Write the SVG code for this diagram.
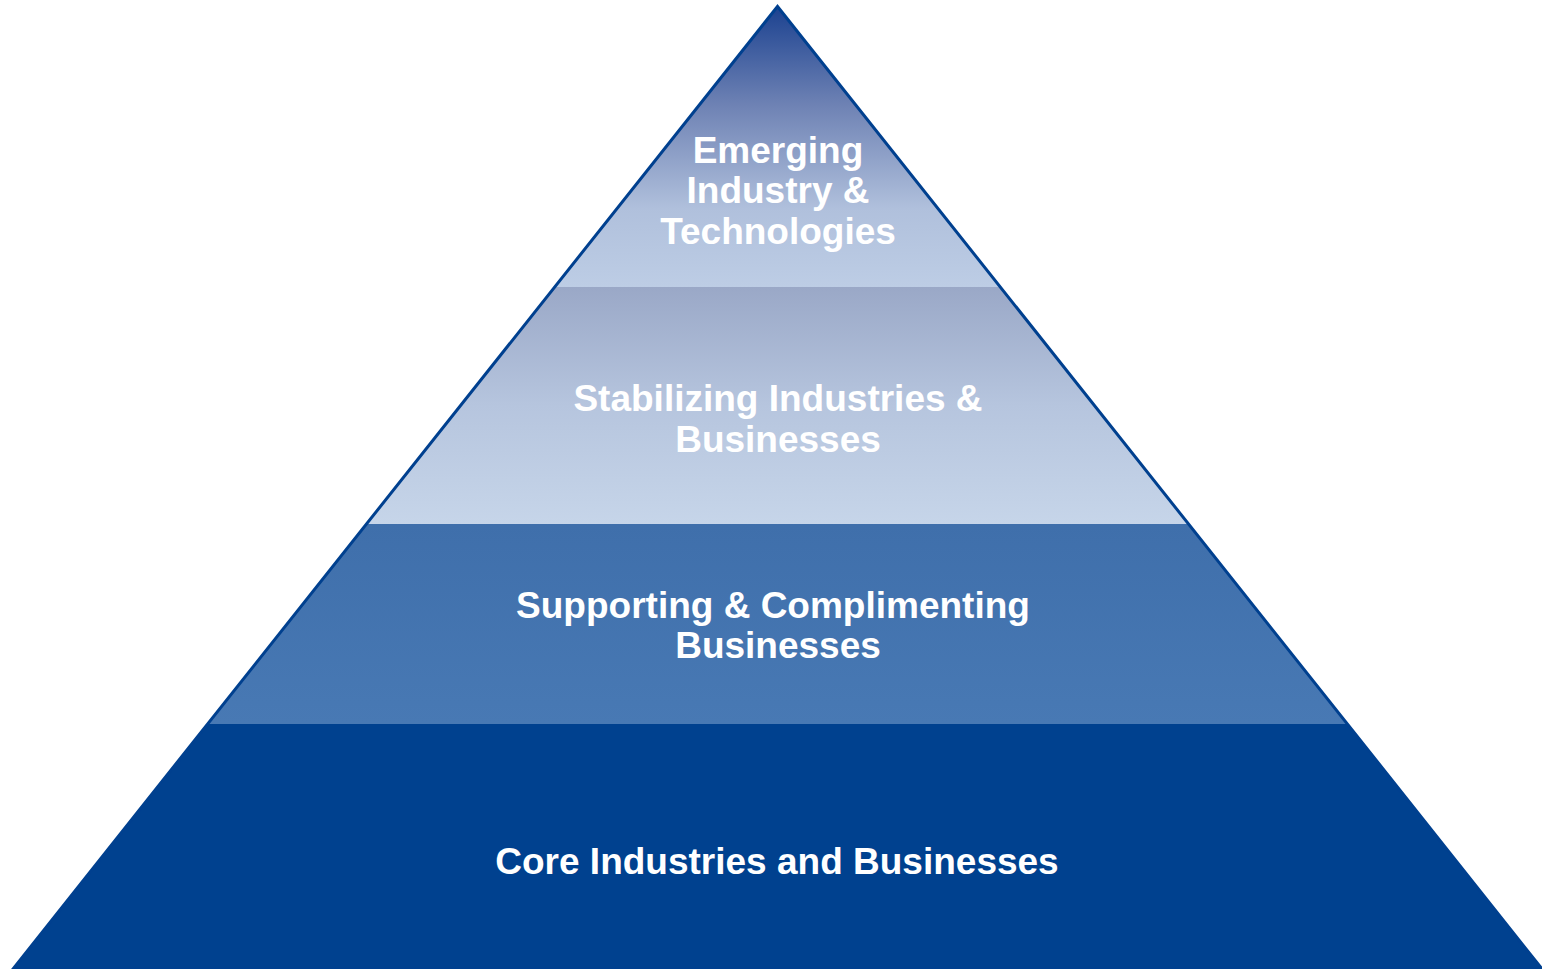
<svg xmlns="http://www.w3.org/2000/svg" width="1542" height="969" viewBox="0 0 1542 969">
  <style>
    .lbl { font-family: "Liberation Sans", Arial, sans-serif; font-weight: bold; font-size: 37px; fill: #ffffff; text-anchor: middle; }
  </style>
  <defs>
    <linearGradient id="gTop" x1="0" y1="7" x2="0" y2="287" gradientUnits="userSpaceOnUse">
      <stop offset="0" stop-color="#1c4290"/>
      <stop offset="0.35" stop-color="#6e82b4"/>
      <stop offset="0.72" stop-color="#b0c0dc"/>
      <stop offset="1" stop-color="#bdcde5"/>
    </linearGradient>
    <linearGradient id="gMid" x1="0" y1="287" x2="0" y2="524" gradientUnits="userSpaceOnUse">
      <stop offset="0" stop-color="#9aa8c7"/>
      <stop offset="0.5" stop-color="#b6c5de"/>
      <stop offset="1" stop-color="#c6d5e9"/>
    </linearGradient>
    <linearGradient id="gThird" x1="0" y1="524" x2="0" y2="724" gradientUnits="userSpaceOnUse">
      <stop offset="0" stop-color="#3f6fab"/>
      <stop offset="1" stop-color="#4879b4"/>
    </linearGradient>
    <clipPath id="tri">
      <polygon points="777.5,6.5 13,969 1542,969"/>
    </clipPath>
  </defs>

  <g id="pyramid-layers" clip-path="url(#tri)">
    <g id="layer-core">
      <rect x="0" y="724" width="1542" height="245" fill="#00418f"/>
    </g>
    <g id="layer-supporting">
      <rect x="0" y="524" width="1542" height="200" fill="url(#gThird)"/>
    </g>
    <g id="layer-stabilizing">
      <rect x="0" y="287" width="1542" height="237" fill="url(#gMid)"/>
    </g>
    <g id="layer-emerging">
      <rect x="0" y="0" width="1542" height="287" fill="url(#gTop)"/>
    </g>
  </g>

  <g id="outline">
    <polygon points="777.5,6.5 13,969 1542,969" fill="none" stroke="#00408f" stroke-width="3" stroke-linejoin="miter"/>
  </g>

  <g id="labels">
    <text class="lbl" x="778" y="163">Emerging</text>
    <text class="lbl" x="778" y="203">Industry &amp;</text>
    <text class="lbl" x="778" y="244">Technologies</text>

    <text class="lbl" x="778" y="411">Stabilizing Industries &amp;</text>
    <text class="lbl" x="778" y="452">Businesses</text>

    <text class="lbl" x="773" y="618">Supporting &amp; Complimenting</text>
    <text class="lbl" x="778" y="658">Businesses</text>

    <text class="lbl" x="777" y="874">Core Industries and Businesses</text>
  </g>
</svg>
